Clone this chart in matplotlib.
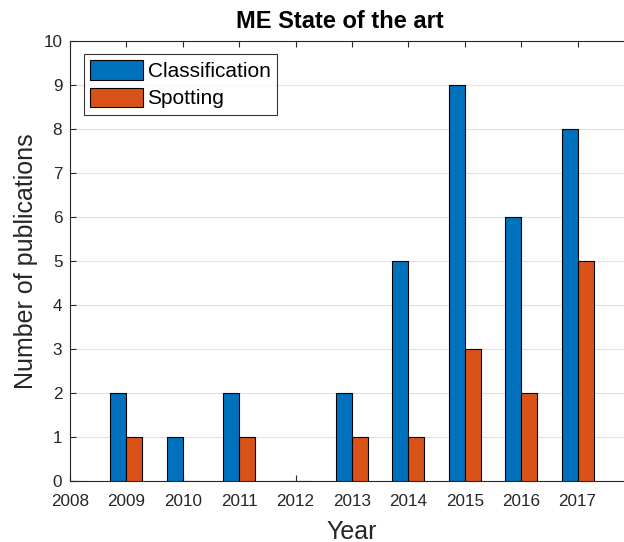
import matplotlib
matplotlib.use('Agg')
import matplotlib.pyplot as plt
import numpy as np

years = [2008, 2009, 2010, 2011, 2012, 2013, 2014, 2015, 2016, 2017]
classification = [0, 2, 1, 2, 0, 2, 5, 9, 6, 8]
spotting = [0, 1, 0, 1, 0, 1, 1, 3, 2, 5]
series_names = ['Classification', 'Spotting']
colors = ['#0072BD', '#D95319']

plt.rcParams['font.family'] = ['Liberation Sans', 'DejaVu Sans']
axis_color = '#262626'

fig = plt.figure(figsize=(6.24, 5.42), dpi=100)
# axes runs slightly past the right edge, as in the reference
ax = fig.add_axes([70 / 624, 61 / 542, 564 / 624, 440 / 542])

x = np.array(years, dtype=float)
w = 0.284
ax.bar(x - w / 2, classification, width=w, color=colors[0], edgecolor='black',
       linewidth=0.8, label=series_names[0], zorder=3)
ax.bar(x + w / 2, spotting, width=w, color=colors[1], edgecolor='black',
       linewidth=0.8, label=series_names[1], zorder=3)

ax.set_xlim(2008, 2018)
ax.set_ylim(0, 10)
ax.set_xticks(years)
ax.set_xticklabels([str(y) for y in years])
ax.set_yticks(range(0, 11))

ax.grid(axis='y', color='#e0e0e0', linewidth=0.8, zorder=0)
ax.set_axisbelow(True)

for s in ax.spines.values():
    s.set_color(axis_color)
    s.set_linewidth(0.8)
ax.spines['right'].set_visible(False)

ax.tick_params(axis='both', direction='in', length=4.5, width=0.8,
               colors=axis_color, labelsize=12.3, top=True, right=False)
ax.tick_params(axis='x', pad=9)
ax.tick_params(axis='y', pad=5.5)

ax.set_title('ME State of the art', fontsize=17, fontweight='bold', x=0.479, pad=9)
ax.set_xlabel('Year', fontsize=18, color=axis_color, labelpad=8)
ax.set_ylabel('Number of publications', fontsize=18, color=axis_color)
ax.yaxis.set_label_coords(-0.057, 0.5)

leg = ax.legend(loc='upper left', bbox_to_anchor=(0.0248, 0.970), borderaxespad=0,
                fontsize=15, frameon=True, fancybox=False, edgecolor='black',
                handlelength=2.55, handleheight=1.06, handletextpad=0.2,
                borderpad=0.3, labelspacing=0.3)
leg.get_frame().set_linewidth(0.8)

fig.savefig('out.png', dpi=100)
